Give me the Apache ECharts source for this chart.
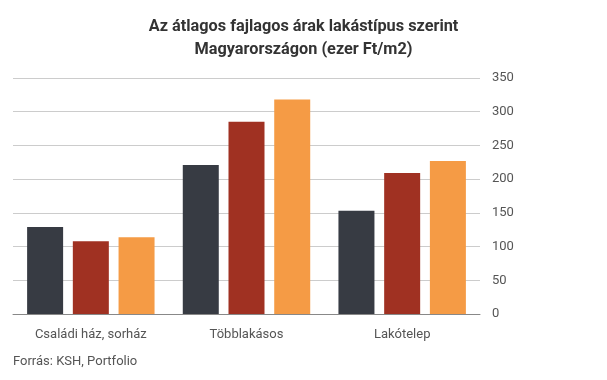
<!DOCTYPE html>
<html><head><meta charset="utf-8">
<script src="https://cdn.jsdelivr.net/npm/echarts@6/dist/echarts.min.js"></script>
<style>html,body{margin:0;padding:0;background:#fff}#c{width:607px;height:380px}</style>
</head><body><div id="c"></div>
<script>
const categories = ["Családi ház, sorház", "Többlakásos", "Lakótelep"];
const series1 = [129, 221, 153];
const series2 = [108, 285, 209];
const series3 = [114, 318, 227];
const yTicks = [0, 50, 100, 150, 200, 250, 300, 350];
const colors = ["#373b43", "#a03122", "#f59b45"];

const chart = echarts.init(document.getElementById('c'));
const mk = (d, i) => ({type: 'bar', data: d, barWidth: 36, barGap: '27%', itemStyle: {color: colors[i]}});
chart.setOption({
  animation: false,
  title: [{
    text: "Az átlagos fajlagos árak lakástípus szerint\nMagyarországon (ezer Ft/m2)",
    left: 'center', top: 15, padding: 0,
    textStyle: {fontFamily: 'Roboto', fontWeight: 'bold', fontSize: 16.3, color: '#333', lineHeight: 23}
  }, {
    text: "Forrás: KSH, Portfolio", left: 13, top: 355, padding: 0,
    textStyle: {fontFamily: 'Roboto', fontWeight: 'normal', fontSize: 13, color: '#555'}
  }],
  grid: {left: 13, right: 127, top: 78, bottom: 66},
  xAxis: {type: 'category', data: categories,
    axisLine: {lineStyle: {color: '#888'}}, axisTick: {show: false},
    axisLabel: {fontFamily: 'Roboto', fontSize: 13, color: '#555', margin: 14}},
  yAxis: {type: 'value', position: 'right', min: yTicks[0], max: yTicks[yTicks.length-1], interval: 50,
    axisLine: {show: false}, axisTick: {show: false},
    splitLine: {lineStyle: {color: '#cccccc'}},
    axisLabel: {fontFamily: 'Roboto', fontSize: 13, color: '#555', margin: 12}},
  series: [mk(series1, 0), mk(series2, 1), mk(series3, 2)]
});
</script></body></html>
